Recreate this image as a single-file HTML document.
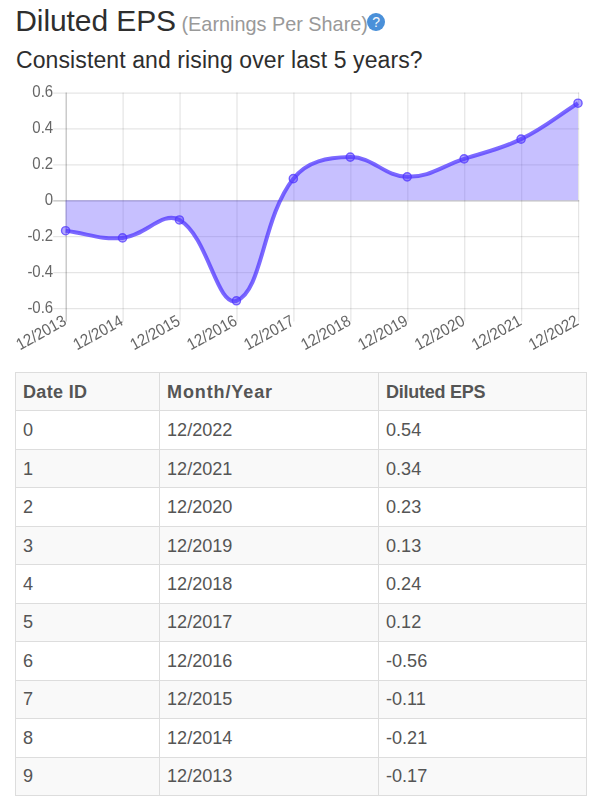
<!DOCTYPE html>
<html><head><meta charset="utf-8">
<style>
html,body{margin:0;padding:0;background:#fff;}
body{width:602px;height:812px;overflow:hidden;position:relative;font-family:"Liberation Sans",sans-serif;}
.t1{position:absolute;left:15.3px;top:1px;font-size:30px;color:#2e2e2e;white-space:nowrap;line-height:40px;letter-spacing:-0.1px;}
.t1s{position:absolute;left:181.5px;top:3.6px;font-size:19.85px;color:#999;white-space:nowrap;line-height:40px;}
.q{position:absolute;left:367.3px;top:13.3px;width:17.5px;height:18px;border-radius:50%;background:#4a90d9;color:#f4f8fc;font-size:14px;text-align:center;line-height:18px;}
.t2{position:absolute;left:16px;top:44.8px;font-size:23px;color:#2e2e2e;white-space:nowrap;line-height:30px;letter-spacing:0.1px;}
svg{position:absolute;left:0;top:0;will-change:transform;}
.yl{font-family:"Liberation Sans",sans-serif;font-size:15px;fill:#666;}
.xl{font-family:"Liberation Sans",sans-serif;font-size:15px;fill:#666;}
table{position:absolute;left:15px;top:372px;width:572px;border-collapse:collapse;font-size:18.1px;color:#555;}
td{border:1px solid #ddd;padding:1px 8px 0 7px;height:38.46px;box-sizing:border-box;}
tr:nth-child(odd) td{background:#f9f9f9;}
tr.h td{font-weight:bold;font-size:18px;}
</style></head><body>
<div class="t1">Diluted EPS</div><div class="t1s">(Earnings Per Share)</div>
<div class="q">?</div>
<div class="t2">Consistent and rising over last 5 years?</div>
<svg width="602" height="370" viewBox="0 0 602 370">
<line x1="53.20" y1="93.04" x2="579.23" y2="93.04" stroke="rgba(0,0,0,0.1)" stroke-width="1.25"/>
<text transform="translate(53.20,97.44) scale(1,1.1)" text-anchor="end" class="yl">0.6</text>
<line x1="53.20" y1="128.96" x2="579.23" y2="128.96" stroke="rgba(0,0,0,0.1)" stroke-width="1.25"/>
<text transform="translate(53.20,133.36) scale(1,1.1)" text-anchor="end" class="yl">0.4</text>
<line x1="53.20" y1="164.88" x2="579.23" y2="164.88" stroke="rgba(0,0,0,0.1)" stroke-width="1.25"/>
<text transform="translate(53.20,169.28) scale(1,1.1)" text-anchor="end" class="yl">0.2</text>
<line x1="53.20" y1="200.80" x2="579.23" y2="200.80" stroke="rgba(0,0,0,0.25)" stroke-width="1.25"/>
<text transform="translate(53.20,205.20) scale(1,1.1)" text-anchor="end" class="yl">0</text>
<line x1="53.20" y1="236.72" x2="579.23" y2="236.72" stroke="rgba(0,0,0,0.1)" stroke-width="1.25"/>
<text transform="translate(53.20,241.12) scale(1,1.1)" text-anchor="end" class="yl">-0.2</text>
<line x1="53.20" y1="272.64" x2="579.23" y2="272.64" stroke="rgba(0,0,0,0.1)" stroke-width="1.25"/>
<text transform="translate(53.20,277.04) scale(1,1.1)" text-anchor="end" class="yl">-0.4</text>
<line x1="53.20" y1="308.56" x2="579.23" y2="308.56" stroke="rgba(0,0,0,0.1)" stroke-width="1.25"/>
<text transform="translate(53.20,312.96) scale(1,1.1)" text-anchor="end" class="yl">-0.6</text>
<line x1="66.20" y1="92.41" x2="66.20" y2="321.56" stroke="rgba(0,0,0,0.25)" stroke-width="1.25"/>
<line x1="123.13" y1="92.41" x2="123.13" y2="321.56" stroke="rgba(0,0,0,0.1)" stroke-width="1.25"/>
<line x1="180.07" y1="92.41" x2="180.07" y2="321.56" stroke="rgba(0,0,0,0.1)" stroke-width="1.25"/>
<line x1="237.00" y1="92.41" x2="237.00" y2="321.56" stroke="rgba(0,0,0,0.1)" stroke-width="1.25"/>
<line x1="293.93" y1="92.41" x2="293.93" y2="321.56" stroke="rgba(0,0,0,0.1)" stroke-width="1.25"/>
<line x1="350.87" y1="92.41" x2="350.87" y2="321.56" stroke="rgba(0,0,0,0.1)" stroke-width="1.25"/>
<line x1="407.80" y1="92.41" x2="407.80" y2="321.56" stroke="rgba(0,0,0,0.1)" stroke-width="1.25"/>
<line x1="464.73" y1="92.41" x2="464.73" y2="321.56" stroke="rgba(0,0,0,0.1)" stroke-width="1.25"/>
<line x1="521.67" y1="92.41" x2="521.67" y2="321.56" stroke="rgba(0,0,0,0.1)" stroke-width="1.25"/>
<line x1="578.60" y1="92.41" x2="578.60" y2="321.56" stroke="rgba(0,0,0,0.1)" stroke-width="1.25"/>
<text transform="translate(65.60,320.96) rotate(-29) translate(0,3.8) scale(1,1.1)" text-anchor="end" class="xl">12/2013</text>
<text transform="translate(122.53,320.96) rotate(-29) translate(0,3.8) scale(1,1.1)" text-anchor="end" class="xl">12/2014</text>
<text transform="translate(179.47,320.96) rotate(-29) translate(0,3.8) scale(1,1.1)" text-anchor="end" class="xl">12/2015</text>
<text transform="translate(236.40,320.96) rotate(-29) translate(0,3.8) scale(1,1.1)" text-anchor="end" class="xl">12/2016</text>
<text transform="translate(293.33,320.96) rotate(-29) translate(0,3.8) scale(1,1.1)" text-anchor="end" class="xl">12/2017</text>
<text transform="translate(350.27,320.96) rotate(-29) translate(0,3.8) scale(1,1.1)" text-anchor="end" class="xl">12/2018</text>
<text transform="translate(407.20,320.96) rotate(-29) translate(0,3.8) scale(1,1.1)" text-anchor="end" class="xl">12/2019</text>
<text transform="translate(464.13,320.96) rotate(-29) translate(0,3.8) scale(1,1.1)" text-anchor="end" class="xl">12/2020</text>
<text transform="translate(521.07,320.96) rotate(-29) translate(0,3.8) scale(1,1.1)" text-anchor="end" class="xl">12/2021</text>
<text transform="translate(578.00,320.96) rotate(-29) translate(0,3.8) scale(1,1.1)" text-anchor="end" class="xl">12/2022</text>
<path d="M65.60,230.73 C88.37,233.61 100.21,240.03 122.53,237.92 C145.76,235.72 162.32,210.49 179.47,219.96 C207.86,235.63 217.13,307.77 236.40,300.78 C262.67,291.25 261.96,218.24 293.33,178.65 C307.51,160.76 327.38,157.46 350.27,157.10 C372.92,156.74 384.32,176.49 407.20,176.85 C429.87,177.21 441.47,166.40 464.13,158.89 C487.01,151.31 499.55,149.66 521.07,139.14 C545.10,127.39 555.23,117.58 578.00,103.22 L578.00,200.20 L65.60,200.20 Z" fill="rgba(100,80,255,0.36)"/>
<path d="M65.60,230.73 C88.37,233.61 100.21,240.03 122.53,237.92 C145.76,235.72 162.32,210.49 179.47,219.96 C207.86,235.63 217.13,307.77 236.40,300.78 C262.67,291.25 261.96,218.24 293.33,178.65 C307.51,160.76 327.38,157.46 350.27,157.10 C372.92,156.74 384.32,176.49 407.20,176.85 C429.87,177.21 441.47,166.40 464.13,158.89 C487.01,151.31 499.55,149.66 521.07,139.14 C545.10,127.39 555.23,117.58 578.00,103.22" fill="none" stroke="rgba(80,55,255,0.75)" stroke-width="4.0"/>
<circle cx="65.60" cy="230.73" r="4.1" fill="rgba(85,60,255,0.45)" stroke="rgba(80,55,255,0.75)" stroke-width="1.4"/>
<circle cx="122.53" cy="237.92" r="4.1" fill="rgba(85,60,255,0.45)" stroke="rgba(80,55,255,0.75)" stroke-width="1.4"/>
<circle cx="179.47" cy="219.96" r="4.1" fill="rgba(85,60,255,0.45)" stroke="rgba(80,55,255,0.75)" stroke-width="1.4"/>
<circle cx="236.40" cy="300.78" r="4.1" fill="rgba(85,60,255,0.45)" stroke="rgba(80,55,255,0.75)" stroke-width="1.4"/>
<circle cx="293.33" cy="178.65" r="4.1" fill="rgba(85,60,255,0.45)" stroke="rgba(80,55,255,0.75)" stroke-width="1.4"/>
<circle cx="350.27" cy="157.10" r="4.1" fill="rgba(85,60,255,0.45)" stroke="rgba(80,55,255,0.75)" stroke-width="1.4"/>
<circle cx="407.20" cy="176.85" r="4.1" fill="rgba(85,60,255,0.45)" stroke="rgba(80,55,255,0.75)" stroke-width="1.4"/>
<circle cx="464.13" cy="158.89" r="4.1" fill="rgba(85,60,255,0.45)" stroke="rgba(80,55,255,0.75)" stroke-width="1.4"/>
<circle cx="521.07" cy="139.14" r="4.1" fill="rgba(85,60,255,0.45)" stroke="rgba(80,55,255,0.75)" stroke-width="1.4"/>
<circle cx="578.00" cy="103.22" r="4.1" fill="rgba(85,60,255,0.45)" stroke="rgba(80,55,255,0.75)" stroke-width="1.4"/>
</svg>
<table>
<tr class="h"><td style="width:144px;letter-spacing:0.35px">Date ID</td><td style="width:219px;letter-spacing:0.9px">Month/Year</td><td style="letter-spacing:-0.25px">Diluted EPS</td></tr>
<tr><td>0</td><td>12/2022</td><td>0.54</td></tr>
<tr><td>1</td><td>12/2021</td><td>0.34</td></tr>
<tr><td>2</td><td>12/2020</td><td>0.23</td></tr>
<tr><td>3</td><td>12/2019</td><td>0.13</td></tr>
<tr><td>4</td><td>12/2018</td><td>0.24</td></tr>
<tr><td>5</td><td>12/2017</td><td>0.12</td></tr>
<tr><td>6</td><td>12/2016</td><td>-0.56</td></tr>
<tr><td>7</td><td>12/2015</td><td>-0.11</td></tr>
<tr><td>8</td><td>12/2014</td><td>-0.21</td></tr>
<tr><td>9</td><td>12/2013</td><td>-0.17</td></tr>
</table>
</body></html>
